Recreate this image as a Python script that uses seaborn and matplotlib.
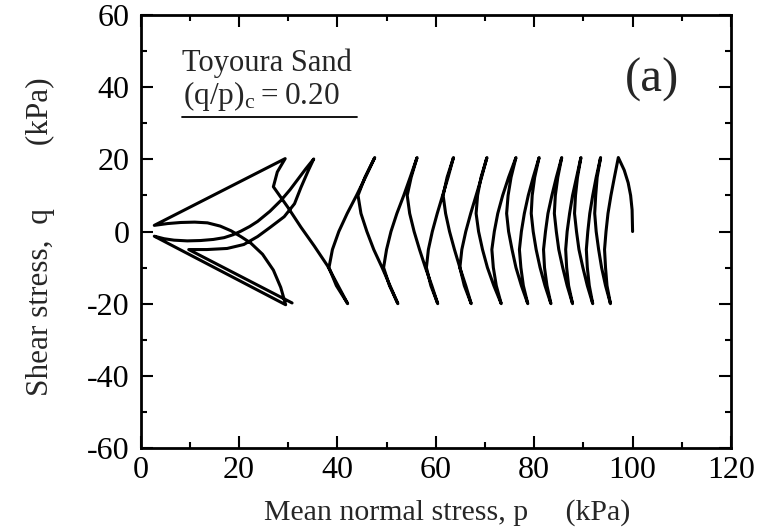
import pandas as pd
import seaborn as sns
import matplotlib.pyplot as plt
from matplotlib.ticker import MultipleLocator

# Undrained cyclic stress path, Toyoura sand (kPa)
# first loading
p_start = [100.0, 99.95, 99.9, 99.6, 99.1, 98.3, 97.1]
q_start = [0.0, 3.0, 6.0, 10.0, 13.5, 17.0, 20.5]

# q levels used for every half cycle (unloading / reloading)
q_down = [15, 10, 5, 0, -5, -10, -15, -20]
q_up = [-15, -10, -5, 0, 5, 10, 15, 20.5]

# p on each half cycle, cycles 1-10
p_down = [
    [96.3, 95.6, 95.0, 94.6, 94.3, 94.5, 94.8, 95.5],
    [92.6, 91.9, 91.3, 90.9, 90.6, 90.8, 91.2, 91.9],
    [88.6, 87.8, 87.2, 86.7, 86.4, 86.6, 87.0, 87.8],
    [84.5, 83.6, 82.8, 82.3, 81.9, 82.1, 82.6, 83.4],
    [79.8, 78.8, 78.0, 77.4, 77.0, 77.3, 77.8, 78.7],
    [74.8, 73.6, 72.6, 71.9, 71.4, 71.7, 72.3, 73.3],
    [69.3, 68.2, 67.1, 66.1, 65.3, 64.9, 65.8, 67.2],
    [62.5, 61.4, 60.3, 59.3, 58.5, 58.1, 59.0, 60.4],
    [54.8, 53.5, 52.1, 50.9, 50.0, 49.4, 50.6, 52.3],
    [45.7, 43.9, 42.0, 40.3, 39.0, 38.3, 39.8, 42.1],
]
p_up = [
    [94.5, 93.7, 93.1, 92.6, 92.3, 92.5, 92.8, 93.5],
    [90.8, 89.9, 89.1, 88.6, 88.2, 88.4, 88.8, 89.5],
    [86.7, 85.8, 85.0, 84.5, 84.1, 84.3, 84.8, 85.6],
    [82.2, 81.2, 80.4, 79.8, 79.4, 79.6, 80.1, 81.0],
    [77.4, 76.3, 75.5, 74.8, 74.4, 74.7, 75.3, 76.3],
    [71.8, 70.5, 69.5, 68.7, 68.2, 68.5, 69.2, 70.4],
    [66.1, 64.9, 63.8, 62.8, 62.0, 61.5, 62.3, 63.6],
    [59.2, 57.9, 56.7, 55.6, 54.7, 54.2, 55.0, 56.2],
    [50.7, 49.1, 47.4, 46.0, 44.8, 44.2, 45.6, 47.6],
]

# liquefaction stage (last cycles near p = 0)
p_liq = [40.0, 38.0, 35.3, 32.6, 29.9, 27.0, 27.8, 29.4,
         2.8,
         5.5, 8.2, 11.0, 13.6, 16.2, 18.4, 20.5, 22.4, 24.8, 27.0, 28.5, 29.5,
         2.8,
         4.8, 6.8, 9.5, 12.2, 14.8, 17.0, 18.8, 20.4, 22.2, 23.8, 26.3, 28.6,
         30.4, 32.0, 33.6, 35.2,
         34.1, 32.6, 31.3, 29.2, 26.4, 23.8, 21.0, 17.6, 13.5, 9.8,
         30.8]
q_liq = [-14.6, -9.5, -4.0, 1.2, 6.8, 12.4, 16.5, 20.2,
         1.7,
         2.2, 2.5, 2.6, 2.4, 1.5, 0.2, -1.5, -3.2, -6.3, -10.7, -15.5, -20.3,
         -1.3,
         -2.0, -2.4, -2.6, -2.5, -2.2, -1.7, -0.9, 0.1, 1.4, 2.8, 5.6, 8.7,
         11.6, 14.5, 17.4, 20.1,
         16.9, 12.2, 7.7, 4.1, 1.2, -1.4, -3.6, -4.7, -5.0, -5.0,
         -19.8]

x_ticks = [0, 20, 40, 60, 80, 100, 120]
y_ticks = [-60, -40, -20, 0, 20, 40, 60]

# chain everything into one path
p_path, q_path = list(p_start), list(q_start)
for i in range(len(p_down)):
    p_path += p_down[i]
    q_path += q_down
    if i < len(p_up):
        p_path += p_up[i]
        q_path += q_up
p_path += p_liq
q_path += q_liq
df = pd.DataFrame({"p": p_path, "q": q_path})

sns.set_style("ticks")
plt.rcParams['font.family'] = ['Liberation Serif', 'DejaVu Serif']
plt.rcParams['mathtext.fontset'] = 'custom'
plt.rcParams['mathtext.rm'] = 'Liberation Serif'
plt.rcParams['axes.unicode_minus'] = False

fig = plt.figure(figsize=(7.78, 5.3), dpi=100)
ax = fig.add_axes([0.1806, 0.1547, 0.759, 0.817])

sns.lineplot(data=df, x="p", y="q", sort=False, estimator=None,
             color="black", lw=2.2, solid_joinstyle="round", ax=ax)

ax.set_xlim(0, 120)
ax.set_ylim(-60, 60)
ax.set_xticks(x_ticks)
ax.set_yticks(y_ticks)
ax.xaxis.set_minor_locator(MultipleLocator(10))
ax.yaxis.set_minor_locator(MultipleLocator(10))
ax.tick_params(which="both", direction="in", top=True, right=True,
               width=1.5, labelsize=23, colors="black")
ax.tick_params(which="major", length=8.5)
ax.tick_params(which="minor", length=4.5)
ax.tick_params(axis="x", pad=6)
ax.tick_params(axis="y", pad=8)
for s in ax.spines.values():
    s.set_linewidth(2)
    s.set_color("black")

ax.set_xlabel("Mean normal stress, p     (kPa)", fontsize=21.5,
              ha="center", va="center")
ax.xaxis.set_label_coords(0.519, -0.15)
ax.set_ylabel("Shear stress,  q        (kPa)", fontsize=22.5,
              ha="center", va="center")
ax.yaxis.set_label_coords(-0.17, 0.487)

ax.text(0.07, 0.889, "Toyoura Sand", transform=ax.transAxes,
        fontsize=22, ha="left", va="center")
ax.text(0.072, 0.812, r"$\mathregular{(q/p)_c = 0.20}$", transform=ax.transAxes,
        fontsize=22.5, ha="left", va="center")
ax.plot([0.07, 0.367], [0.764, 0.764], color="black", lw=1.3,
        transform=ax.transAxes)
ax.text(0.866, 0.85, "(a)", transform=ax.transAxes,
        fontsize=35, ha="center", va="center")

fig.savefig("out.png", dpi=100)
